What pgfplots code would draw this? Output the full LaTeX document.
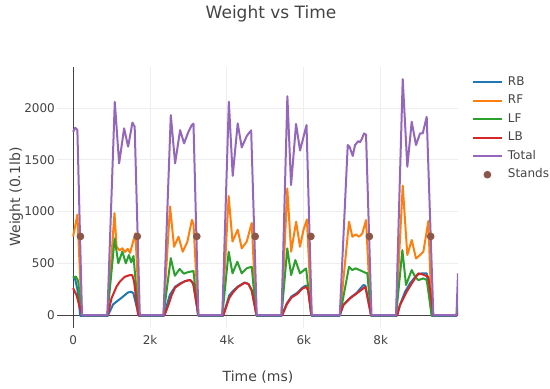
\documentclass[border=0pt]{standalone}
\usepackage{fontspec}
\setmainfont{DejaVu Sans}
\usepackage{pgfplots}
\pgfplotsset{compat=1.18}
\definecolor{cRB}{HTML}{1F77B4}
\definecolor{cRF}{HTML}{FF7F0E}
\definecolor{cLF}{HTML}{2CA02C}
\definecolor{cLB}{HTML}{D62728}
\definecolor{cTot}{HTML}{9467BD}
\definecolor{cSt}{HTML}{8C564B}
\definecolor{txt}{HTML}{444444}
\definecolor{gridc}{HTML}{EEEEEE}
\begin{document}
\begin{tikzpicture}[x=1pt,y=1pt]
\useasboundingbox (0,0) rectangle (550,389);
\begin{axis}[
  at={(57pt,61pt)}, anchor=south west,
  scale only axis, width=401pt, height=261.3pt,
  xmin=-420, xmax=10010, ymin=-125, ymax=2400,
  axis line style={draw=none},
  major tick length=0pt, tick style={draw=none},
  scaled x ticks=false, scaled y ticks=false,
  xtick={2000,4000,6000,8000}, xticklabels={2k,4k,6k,8k},
  ytick={500,1000,1500,2000}, yticklabels={500,1000,1500,2000},
  extra x ticks={0}, extra x tick labels={0},
  extra y ticks={0}, extra y tick labels={0},
  extra tick style={grid=major, major grid style={draw=txt, line width=1pt}},
  grid=major, major grid style={draw=gridc, line width=1pt},
  tick label style={font=\fontsize{12}{14}\selectfont, text=txt},
  /pgf/number format/assume math mode=true,
  /pgf/number format/1000 sep={},
  yticklabel style={inner sep=0pt, xshift=-2pt},
  xticklabel style={inner sep=0pt, anchor=north, yshift=-7pt, text height=9pt},
  legend cell align=left,
  legend style={at={(1.0342,0.9644)}, anchor=north west, draw=none, fill=none,
    font=\fontsize{12}{14}\selectfont, text=txt, inner sep=0pt, row sep=6.5pt,
    nodes={inner sep=0pt, text height=9pt, text depth=3pt},
    /tikz/every odd column/.append style={column sep=5pt}},
  legend image code/.code={\draw[#1] (0pt,0pt) -- (29pt,0pt);},
  every axis plot/.append style={line width=2pt, line join=round},
]
\addplot[cRB, no marks] coordinates {
(0,375) (50,350) (110,250) (185,-8) (900,-8) (1040,103) (1127,129) (1240,161) (1343,193) (1430,219) (1517,225) (1568,209) (1708,-8)
(2360,-8) (2512,193) (2652,274) (2782,306) (2912,328) (3042,338) (3100,320) (3128,290) (3258,-8)
(3900,-8) (4060,190) (4150,230) (4280,275) (4460,315) (4560,300) (4645,240) (4770,-8)
(5420,-8) (5560,115) (5680,180) (5830,215) (5960,265) (6060,285) (6110,250) (6200,-8)
(6930,-8) (7030,100) (7200,165) (7376,215) (7548,290) (7600,285) (7750,-8)
(8415,-8) (8502,100) (8632,225) (8762,306) (8935,386) (9066,403) (9196,403) (9326,-8)
(9975,-8) (10010,30)
};
\addlegendentry{RB}
\addplot[cRF, no marks] coordinates {
(0,760) (110,970) (225,0) (890,0) (1075,985) (1130,660) (1210,625) (1280,645) (1350,610) (1420,640) (1480,600) (1560,710) (1620,790) (1720,0)
(2350,0) (2520,1050) (2625,660) (2740,757) (2850,612) (2970,708) (3090,920) (3130,880) (3255,0)
(3880,0) (4045,1150) (4145,710) (4280,825) (4385,645) (4515,710) (4645,890) (4760,0)
(5420,0) (5570,1224) (5670,612) (5800,902) (5900,660) (5990,821) (6080,924) (6200,0)
(6940,0) (7175,902) (7262,757) (7349,780) (7436,757) (7522,789) (7618,918) (7740,0)
(8400,0) (8572,1250) (8692,580) (8806,725) (8918,547) (9022,580) (9109,612) (9239,908) (9326,0)
(9970,0) (10010,60)
};
\addlegendentry{RF}
\addplot[cLF, no marks] coordinates {
(0,360) (70,372) (130,330) (215,0) (890,0) (1080,740) (1175,500) (1280,615) (1370,500) (1450,580) (1510,510) (1570,570) (1700,0)
(2350,0) (2540,550) (2645,380) (2770,445) (2880,400) (2990,415) (3130,425) (3245,0)
(3880,0) (4045,612) (4145,403) (4270,515) (4385,403) (4510,451) (4645,467) (4760,0)
(5420,0) (5570,644) (5670,386) (5780,531) (5900,403) (6060,451) (6190,0)
(6940,0) (7175,467) (7262,435) (7349,451) (7480,430) (7600,409) (7650,405) (7750,0)
(8400,0) (8563,628) (8658,290) (8806,435) (8892,370) (8979,338) (9109,354) (9196,338) (9326,0)
(9970,0) (10010,100)
};
\addlegendentry{LF}
\addplot[cLB, no marks] coordinates {
(0,260) (90,190) (170,80) (235,0) (900,0) (997,161) (1127,274) (1213,322) (1343,370) (1473,386) (1540,385) (1586,322) (1690,0)
(2380,0) (2480,100) (2560,190) (2652,265) (2782,300) (2912,328) (3042,340) (3128,300) (3258,0)
(3910,0) (4060,165) (4150,215) (4280,270) (4460,312) (4560,300) (4645,235) (4770,0)
(5440,0) (5560,105) (5680,170) (5830,205) (5960,255) (6060,272) (6110,240) (6200,0)
(6930,0) (7030,97) (7200,161) (7376,209) (7548,258) (7600,274) (7750,0)
(8433,0) (8502,97) (8676,225) (8806,306) (8979,403) (9109,390) (9239,370) (9368,0)
(9980,0) (10010,20)
};
\addlegendentry{LB}
\addplot[cTot, no marks] coordinates {
(0,1770) (50,1810) (110,1790) (230,0) (890,0) (1083,2060) (1196,1466) (1326,1804) (1430,1627) (1542,1860) (1600,1820) (1734,0)
(2350,0) (2540,1932) (2652,1466) (2782,1787) (2886,1659) (2998,1771) (3085,1836) (3130,1850) (3258,0)
(3880,0) (4050,2061) (4150,1345) (4280,1852) (4385,1620) (4515,1730) (4630,1785) (4775,0)
(5420,0) (5572,2115) (5668,1256) (5798,1847) (5902,1590) (6070,1836) (6206,0)
(6935,0) (7142,1643) (7190,1625) (7272,1538) (7332,1643) (7418,1681) (7462,1670) (7506,1700) (7566,1755) (7618,1742) (7760,0)
(8398,0) (8572,2280) (8692,1433) (8806,1868) (8918,1643) (9022,1755) (9092,1755) (9196,1916) (9368,0)
(9970,0) (10010,403)
};
\addlegendentry{Total}
\addplot[cSt, only marks, mark=*, mark size=2.8pt, mark options={draw=none, fill=cSt},
  legend image code/.code={\fill[cSt] (14.5pt,0pt) circle (2.8pt);}] coordinates {
(190,760) (1668,760) (3216,760) (4735,760) (6185,760) (7704,760) (9300,760)
};
\addlegendentry{Stands}
\end{axis}
\node[anchor=base, font=\fontsize{17}{20}\selectfont, text=txt] at (271,370.7) {Weight vs Time};
\node[rotate=90, anchor=base, font=\fontsize{14}{17}\selectfont, text=txt] at (20,192) {Weight (0.1lb)};
\node[anchor=base, font=\fontsize{14}{17}\selectfont, text=txt] at (258,8) {Time (ms)};
\end{tikzpicture}
\end{document}
